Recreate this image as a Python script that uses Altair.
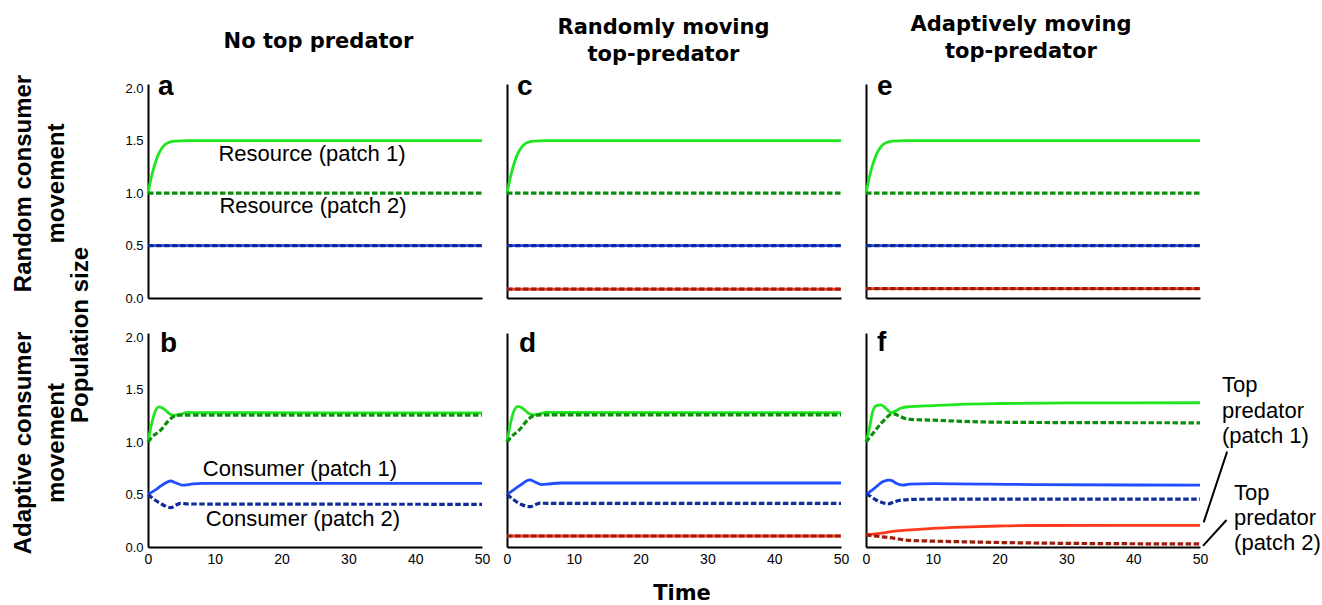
import altair as alt
import pandas as pd

# ---------------- values ----------------
TIME_TICKS = [0, 10, 20, 30, 40, 50]
POP_TICKS = [0.0, 0.5, 1.0, 1.5, 2.0]

COL_TITLES = [["No top predator"], ["Randomly moving", "top-predator"], ["Adaptively moving", "top-predator"]]
ROW_TITLES = [["Random consumer", "movement"], ["Adaptive consumer", "movement"]]
Y_TITLE = "Population size"
X_TITLE = "Time"

# panel a : random consumer movement, no top predator
A_RES1 = [(0, 1.0), (0.5, 1.15), (1, 1.27), (1.5, 1.36), (2, 1.42), (2.5, 1.46), (3, 1.48), (4, 1.495), (6, 1.5), (50, 1.5)]
A_RES2 = [(0, 1.0), (50, 1.0)]
A_CON1 = [(0, 0.5), (50, 0.5)]
A_CON2 = [(0, 0.5), (50, 0.5)]

# panel c : random consumer movement, randomly moving top predator
C_RES1 = [(0, 1.0), (0.5, 1.15), (1, 1.27), (1.5, 1.36), (2, 1.42), (2.5, 1.46), (3, 1.48), (4, 1.495), (6, 1.5), (50, 1.5)]
C_RES2 = [(0, 1.0), (50, 1.0)]
C_CON1 = [(0, 0.5), (50, 0.5)]
C_CON2 = [(0, 0.5), (50, 0.5)]
C_TOP1 = [(0, 0.085), (50, 0.085)]
C_TOP2 = [(0, 0.085), (50, 0.085)]

# panel e : random consumer movement, adaptively moving top predator
E_RES1 = [(0, 1.0), (0.5, 1.15), (1, 1.27), (1.5, 1.36), (2, 1.42), (2.5, 1.46), (3, 1.48), (4, 1.495), (6, 1.5), (50, 1.5)]
E_RES2 = [(0, 1.0), (50, 1.0)]
E_CON1 = [(0, 0.5), (50, 0.5)]
E_CON2 = [(0, 0.5), (50, 0.5)]
E_TOP1 = [(0, 0.09), (50, 0.09)]
E_TOP2 = [(0, 0.09), (50, 0.09)]

# panel b : adaptive consumer movement, no top predator
B_RES1 = [(0, 1.0), (0.5, 1.16), (1, 1.28), (1.65, 1.336), (2.5, 1.31), (3.2, 1.27), (3.9, 1.255),
          (4.6, 1.26), (6, 1.283), (7.5, 1.28), (50, 1.279)]
B_RES2 = [(0, 1.0), (0.65, 1.05), (1.9, 1.114), (3.15, 1.21), (4.4, 1.257), (5.5, 1.258), (50, 1.257)]
B_CON1 = [(0, 0.5), (1, 0.54), (2, 0.585), (3.4, 0.629), (4.2, 0.61), (5.15, 0.59), (6.5, 0.6),
          (8, 0.607), (50, 0.607)]
B_CON2 = [(0, 0.5), (1, 0.45), (2, 0.41), (3.4, 0.375), (4.2, 0.4), (4.9, 0.416), (6, 0.41), (50, 0.407)]

# panel d : adaptive consumer movement, randomly moving top predator
D_RES1 = [(0, 1.0), (0.5, 1.17), (1, 1.29), (1.65, 1.34), (2.5, 1.315), (3.2, 1.275), (3.9, 1.26),
          (4.6, 1.265), (6, 1.285), (7.5, 1.282), (50, 1.28)]
D_RES2 = [(0, 1.0), (0.65, 1.05), (1.9, 1.12), (3.15, 1.215), (4.4, 1.258), (5.5, 1.26), (50, 1.26)]
D_CON1 = [(0, 0.5), (1, 0.545), (2, 0.59), (3.4, 0.64), (4.2, 0.62), (5.15, 0.595), (6.5, 0.603),
          (8, 0.61), (50, 0.61)]
D_CON2 = [(0, 0.5), (1, 0.45), (2, 0.41), (3.5, 0.384), (4.3, 0.405), (5, 0.418), (6, 0.416), (50, 0.416)]
D_TOP1 = [(0, 0.105), (50, 0.105)]
D_TOP2 = [(0, 0.105), (50, 0.105)]

# panel f : adaptive consumer movement, adaptively moving top predator
F_RES1 = [(0, 1.0), (0.5, 1.13), (1, 1.29), (1.5, 1.345), (2.26, 1.355), (3, 1.32), (3.77, 1.28),
          (4.5, 1.3), (5.3, 1.325), (6.3, 1.337), (9, 1.345), (14, 1.36), (20, 1.368), (30, 1.373), (50, 1.375)]
F_RES2 = [(0, 1.0), (1, 1.08), (2.26, 1.178), (3, 1.226), (3.5, 1.257), (4.27, 1.267), (5.0, 1.248),
          (5.8, 1.226), (7, 1.215), (9.3, 1.21), (19.3, 1.19), (30, 1.186), (50, 1.184)]
F_CON1 = [(0, 0.5), (1.26, 0.559), (2.5, 0.622), (3.3, 0.638), (3.77, 0.636), (4.5, 0.607), (5.5, 0.59),
          (6.5, 0.6), (10, 0.605), (25, 0.595), (50, 0.59)]
F_CON2 = [(0, 0.5), (0.5, 0.49), (1.5, 0.448), (2.5, 0.422), (3.27, 0.41), (4.27, 0.431), (5.3, 0.448),
          (8, 0.455), (20, 0.457), (50, 0.457)]
F_TOP1 = [(0, 0.115), (2, 0.13), (4, 0.148), (6, 0.16), (10, 0.178), (14.3, 0.19), (20, 0.2),
          (25, 0.205), (50, 0.207)]
F_TOP2 = [(0, 0.115), (2.26, 0.098), (4.27, 0.083), (5.8, 0.067), (10, 0.056), (14.3, 0.05),
          (20, 0.043), (29.4, 0.035), (40, 0.031), (50, 0.029)]

# in-panel annotations: (text, time, population)
A_NOTES = [("Resource (patch 1)", 24.55, 1.309), ("Resource (patch 2)", 24.7, 0.813)]
B_NOTES = [("Consumer (patch 1)", 22.75, 0.68), ("Consumer (patch 2)", 23.2, 0.203)]
F_NOTES = [("Top", 53.3, 1.48), ("predator", 53.3, 1.227), ("(patch 1)", 53.3, 0.989),
           ("Top", 55.1, 0.448), ("predator", 55.1, 0.21), ("(patch 2)", 55.1, -0.029)]
F_LEADERS = [(54.06, 0.909, 50.55, 0.235), (53.97, 0.257, 50.45, 0.01)]
LETTER_POS = {"a": (1.5, 1.935), "c": (1.5, 1.935), "e": (1.65, 1.935),
              "b": (1.8, 1.859), "d": (1.8, 1.859), "f": (1.65, 1.868)}

# ---------------- styles ----------------
GREEN, DGREEN = "#1fe61f", "#0a8f0a"
BLUE, NAVY = "#1f4dff", "#0f2a99"
RED, DRED = "#ff3a1a", "#9e1c0c"
FONT = "Liberation Sans"
TFONT = "DejaVu Sans"
W, H = 334, 214
ONE = pd.DataFrame({"k": [0]})

XS = alt.Scale(domain=[0, 50], nice=False, zero=False)
YS = alt.Scale(domain=[0, 2.04], nice=False, zero=False)


def x_enc(show):
    if show:
        ax = alt.Axis(values=TIME_TICKS, format="d", labelFontSize=14, labelPadding=5,
                      labelFlush=False, title=None)
    else:
        ax = alt.Axis(labels=False, title=None)
    return alt.X("t:Q", scale=XS, axis=ax)


def y_enc(show):
    if show:
        ax = alt.Axis(values=POP_TICKS, format=".1f", labelFontSize=13, labelPadding=5, title=None)
    else:
        ax = alt.Axis(labels=False, title=None)
    return alt.Y("v:Q", scale=YS, axis=ax)


def series(pts, color, dashed, xe, ye):
    df = pd.DataFrame(pts, columns=["t", "v"])
    kw = dict(color=color, strokeWidth=3.2 if dashed else 2.8, interpolate="monotone")
    if dashed:
        kw["strokeDash"] = [5.5, 2.5]
    return alt.Chart(df).mark_line(**kw).encode(x=xe, y=ye)


def dtext(rows, size, bold, xe, ye, align="center"):
    df = pd.DataFrame(rows, columns=["label", "t", "v"])
    return alt.Chart(df).mark_text(fontSize=size, font=FONT, fontWeight="bold" if bold else "normal",
                                   align=align, baseline="alphabetic", color="black").encode(
        x=xe, y=ye, text="label:N")


def ptext(label, x, y, size, font, angle=0):
    kw = dict(text=label, fontSize=size, font=font, fontWeight="bold", align="center",
              baseline="alphabetic", color="black")
    if angle:
        kw["angle"] = angle
    return alt.Chart(ONE).mark_text(**kw).encode(x=alt.value(x), y=alt.value(y))


def panel(letter, lines, xshow, yshow, extra=()):
    xe, ye = x_enc(xshow), y_enc(yshow)
    layers = []
    for pts, color, dashed in lines:
        layers.append(series(pts, color, dashed, xe, ye))
    lt, lv = LETTER_POS[letter]
    layers.append(dtext([(letter, lt, lv)], 28, True, xe, ye, align="left"))
    for e in extra:
        layers.append(e(xe, ye))
    return alt.layer(*layers).properties(width=W, height=H)


def std_lines(r1, r2, c1, c2, t1=None, t2=None):
    out = [(r1, GREEN, False), (c1, BLUE, False)]
    if t1 is not None:
        out.append((t1, RED, False))
    out += [(r2, DGREEN, True), (c2, NAVY, True)]
    if t2 is not None:
        out.append((t2, DRED, True))
    return out


frame = alt.Chart(ONE).mark_rule(strokeOpacity=0, strokeWidth=1).encode(
    x=alt.value(-148), x2=alt.value(1173), y=alt.value(-84), y2=alt.value(520))

pa = panel("a", std_lines(A_RES1, A_RES2, A_CON1, A_CON2), False, True, extra=[
    lambda xe, ye: dtext(A_NOTES, 22, False, xe, ye),
    lambda xe, ye: ptext(COL_TITLES[0][0], 170.5, -36, 21, TFONT),
    lambda xe, ye: ptext(ROW_TITLES[0][0], -117, 99.5, 24, FONT, 270),
    lambda xe, ye: ptext(ROW_TITLES[0][1], -84, 99.5, 24, FONT, 270),
    lambda xe, ye: ptext(Y_TITLE, -60, 251, 24, FONT, 270),
    lambda xe, ye: frame,
])
pc = panel("c", std_lines(C_RES1, C_RES2, C_CON1, C_CON2, C_TOP1, C_TOP2), False, False, extra=[
    lambda xe, ye: ptext(COL_TITLES[1][0], 156.5, -50, 21, TFONT),
    lambda xe, ye: ptext(COL_TITLES[1][1], 156.5, -23, 21, TFONT),
])
pe = panel("e", std_lines(E_RES1, E_RES2, E_CON1, E_CON2, E_TOP1, E_TOP2), False, False, extra=[
    lambda xe, ye: ptext(COL_TITLES[2][0], 155, -53, 21, TFONT),
    lambda xe, ye: ptext(COL_TITLES[2][1], 155, -26, 21, TFONT),
])
pb = panel("b", std_lines(B_RES1, B_RES2, B_CON1, B_CON2), True, True, extra=[
    lambda xe, ye: dtext(B_NOTES, 22, False, xe, ye),
    lambda xe, ye: ptext(ROW_TITLES[1][0], -117, 110, 24, FONT, 270),
    lambda xe, ye: ptext(ROW_TITLES[1][1], -84, 110, 24, FONT, 270),
])
pd_ = panel("d", std_lines(D_RES1, D_RES2, D_CON1, D_CON2, D_TOP1, D_TOP2), True, False, extra=[
    lambda xe, ye: ptext(X_TITLE, 175, 267, 21, TFONT),
])


def leaders(xe, ye):
    df = pd.DataFrame(F_LEADERS, columns=["t", "v", "t2", "v2"])
    return alt.Chart(df).mark_rule(color="black", strokeWidth=2).encode(
        x=xe, y=ye, x2="t2:Q", y2="v2:Q")


pf = panel("f", std_lines(F_RES1, F_RES2, F_CON1, F_CON2, F_TOP1, F_TOP2), True, False, extra=[
    lambda xe, ye: dtext(F_NOTES, 22, False, xe, ye, align="left"),
    leaders,
])

chart = alt.concat(pa, pc, pe, pb, pd_, pf, columns=3, spacing={"row": 35, "column": 25},
                   bounds="flush").properties(
    padding={"left": 0, "top": 0, "right": 0, "bottom": 0},
    autosize=alt.AutoSizeParams(type="pad"),
).configure_view(strokeWidth=0).configure_axis(
    domainColor="black", domainWidth=2, grid=False, ticks=False, tickSize=0,
    labelColor="black", labelFont=FONT,
)

chart.save("out.html", embed_options={"renderer": "svg", "actions": False})
